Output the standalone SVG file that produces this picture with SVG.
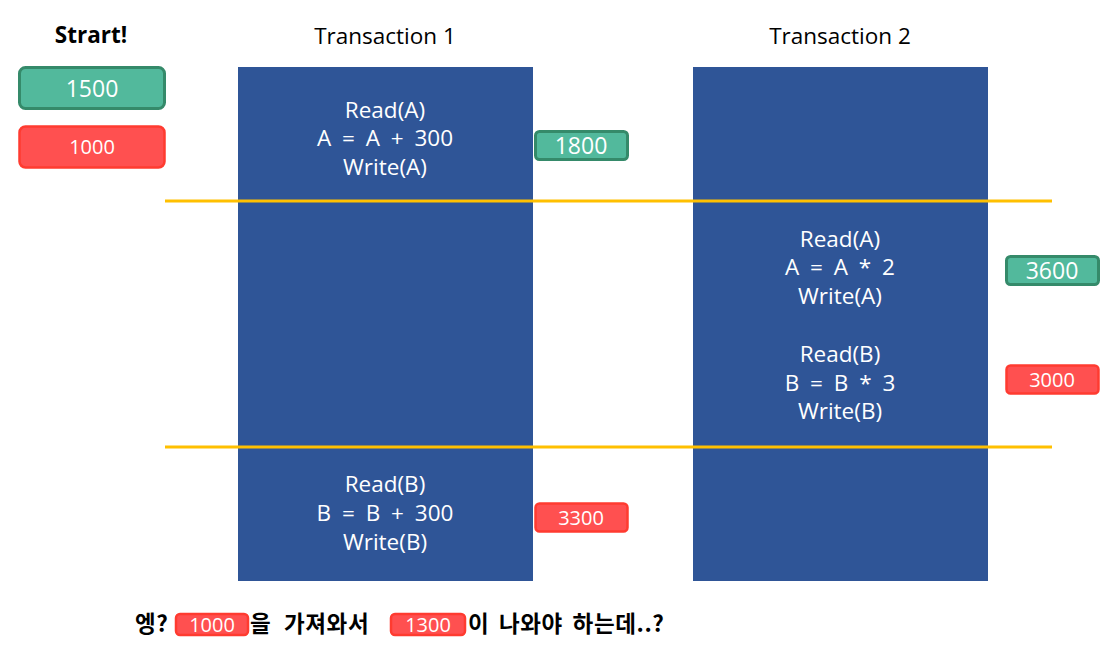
<svg xmlns="http://www.w3.org/2000/svg" width="1116" height="656" viewBox="0 0 1116 656">
<style>
text{font-family:"Open Sans","Noto Sans CJK KR",sans-serif;}
.col{fill:#2F5597;}
.line{stroke:#FFC000;stroke-width:3;}
.g{fill:#52B99C;stroke:#358A6A;stroke-width:3;}
.r{fill:#FF5050;stroke:#FF3B30;stroke-width:2.5;}
.wt{fill:#fff;font-size:22.5px;text-anchor:middle;word-spacing:5px;}
.nt{fill:#fff;font-size:23px;text-anchor:middle;}
.bt{fill:#fff;font-size:20px;text-anchor:middle;}
.tt{fill:#000;font-size:22.5px;text-anchor:middle;}
.kr{fill:#000;font-size:22.5px;font-weight:bold;letter-spacing:0.6px;font-family:"Noto Sans CJK KR",sans-serif;}
</style>
<rect width="1116" height="656" fill="#fff"/>
<text class="tt" x="91" y="43" font-weight="bold" font-size="21">Strart!</text>
<text class="tt" x="385" y="44">Transaction 1</text>
<text class="tt" x="840" y="44">Transaction 2</text>
<g id="t1"><rect class="col" x="238" y="67" width="295" height="514"/></g>
<g id="t2"><rect class="col" x="693" y="67" width="295" height="514"/></g>
<g id="connectors">
<line class="line" x1="165" y1="201" x2="1052" y2="201"/>
<line class="line" x1="165" y1="447" x2="1052" y2="447"/>
</g>
<g id="t1-step1">
<text class="wt" x="385" y="118">Read(A)</text>
<text class="wt" x="385" y="146">A = A + 300</text>
<text class="wt" x="385" y="175">Write(A)</text>
</g>
<g id="t2-step1">
<text class="wt" x="840" y="247">Read(A)</text>
<text class="wt" x="840" y="275">A = A * 2</text>
<text class="wt" x="840" y="304">Write(A)</text>
<text class="wt" x="840" y="362">Read(B)</text>
<text class="wt" x="840" y="391">B = B * 3</text>
<text class="wt" x="840" y="419">Write(B)</text>
</g>
<g id="t1-step2">
<text class="wt" x="385" y="492">Read(B)</text>
<text class="wt" x="385" y="521">B = B + 300</text>
<text class="wt" x="385" y="550">Write(B)</text>
</g>
<g id="a-start"><rect class="g" x="19.5" y="67.5" width="145" height="41" rx="6"/><text class="nt" x="92" y="97">1500</text></g>
<g id="b-start"><rect class="r" x="19.5" y="126.5" width="145" height="41" rx="6"/><text class="bt" x="92" y="154">1000</text></g>
<g id="a-1800"><rect class="g" x="535.5" y="131.5" width="92" height="28" rx="4"/><text class="nt" x="581" y="154">1800</text></g>
<g id="a-3600"><rect class="g" x="1006.5" y="256.5" width="92" height="28" rx="4"/><text class="nt" x="1052" y="279">3600</text></g>
<g id="b-3000"><rect class="r" x="1006.5" y="365.5" width="92" height="28" rx="4"/><text class="bt" x="1052" y="387">3000</text></g>
<g id="b-3300"><rect class="r" x="535.5" y="503.5" width="92" height="28" rx="4"/><text class="bt" x="581" y="525">3300</text></g>
<g id="note">
<text class="kr" x="135" y="632">엥?</text>
<rect class="r" x="176" y="614" width="72" height="21" rx="4"/>
<text class="bt" x="212" y="632">1000</text>
<text class="kr" x="250" y="632" letter-spacing="2.5" word-spacing="7">을 가져와서</text>
<rect class="r" x="391" y="614" width="74" height="21" rx="4"/>
<text class="bt" x="428" y="632">1300</text>
<text class="kr" x="468" y="632" letter-spacing="1.6" word-spacing="4">이 나와야 하는데..?</text>
</g>
</svg>
